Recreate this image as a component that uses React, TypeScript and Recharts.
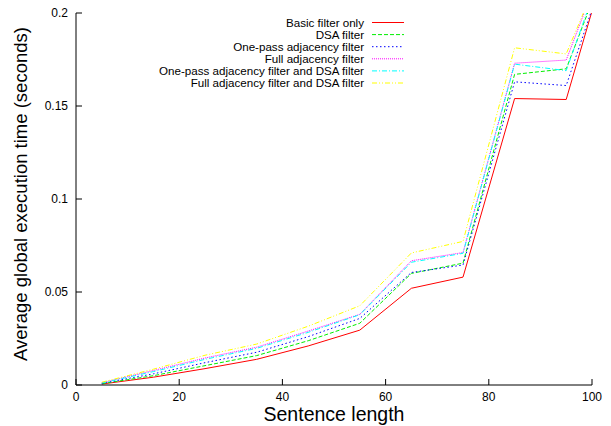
import { LineChart, Line, XAxis, YAxis, Legend, Label } from 'recharts';

// sentence length (x) and average global execution time (seconds) per filter setup
const sentenceLengths = [5, 15, 25, 35, 45, 55, 65, 75, 85, 95, 100];
const basicOnly = [0.0005, 0.0042, 0.0088, 0.0138, 0.021, 0.0295, 0.052, 0.058, 0.154, 0.1535, 0.201];
const dsaFilter = [0.0007, 0.005, 0.0104, 0.0158, 0.0238, 0.0332, 0.06, 0.0655, 0.167, 0.17, 0.206];
const onePassAdj = [0.0009, 0.006, 0.012, 0.0176, 0.026, 0.0358, 0.0605, 0.0645, 0.163, 0.161, 0.202];
const fullAdj = [0.0012, 0.0078, 0.0145, 0.0203, 0.029, 0.038, 0.0668, 0.0712, 0.173, 0.1747, 0.211];
const onePassAdjDsa = [0.0011, 0.0072, 0.0138, 0.0197, 0.0283, 0.0378, 0.066, 0.0708, 0.1725, 0.169, 0.208];
const fullAdjDsa = [0.0015, 0.0085, 0.016, 0.022, 0.0316, 0.0426, 0.071, 0.0772, 0.1813, 0.178, 0.211];

const xTicks = [0, 20, 40, 60, 80, 100];
const yTicks = [0, 0.05, 0.1, 0.15, 0.2];

const data = sentenceLengths.map((len, i) => ({
  len,
  basic: basicOnly[i],
  dsa: dsaFilter[i],
  onePass: onePassAdj[i],
  full: fullAdj[i],
  onePassDsa: onePassAdjDsa[i],
  fullDsa: fullAdjDsa[i],
}));

const series = [
  { key: 'basic', name: 'Basic filter only', color: '#ff0000', dash: undefined },
  { key: 'dsa', name: 'DSA filter', color: '#00ee00', dash: '4 2' },
  { key: 'onePass', name: 'One-pass adjacency filter', color: '#0000ff', dash: '1.5 2.5' },
  { key: 'full', name: 'Full adjacency filter', color: '#ff00ff', dash: '1 1' },
  { key: 'onePassDsa', name: 'One-pass adjacency filter and DSA filter', color: '#00ffff', dash: '5 2 1 2' },
  { key: 'fullDsa', name: 'Full adjacency filter and DSA filter', color: '#ffff00', dash: '5 2 1 2 1 2' },
];

const FONT = '"Liberation Sans", Arial, sans-serif';
const TICK = 6;

const BottomTick = ({ x, y, payload }: any) => (
  <g>
    <line x1={x} y1={y} x2={x} y2={y - TICK} stroke="#000" />
    <text x={x} y={y + 16} textAnchor="middle" fontSize={12} fontFamily={FONT} fill="#000">
      {payload.value}
    </text>
  </g>
);

const TopTick = ({ x, y }: any) => <line x1={x} y1={y} x2={x} y2={y + TICK} stroke="#000" />;

const LeftTick = ({ x, y, payload }: any) => (
  <g>
    <line x1={x} y1={y} x2={x + TICK} y2={y} stroke="#000" />
    <text x={x - 8} y={y + 4} textAnchor="end" fontSize={12} fontFamily={FONT} fill="#000">
      {payload.value}
    </text>
  </g>
);

const RightTick = ({ x, y }: any) => <line x1={x} y1={y} x2={x - TICK} y2={y} stroke="#000" />;

const LegendBox = () => (
  <svg width={280} height={84} style={{ display: 'block' }}>
    {series.map((s, i) => {
      const cy = 7.5 + i * 12.1;
      return (
        <g key={s.key}>
          <text x={224} y={cy + 4} textAnchor="end" fontSize={11.6} fontFamily={FONT} fill="#000">
            {s.name}
          </text>
          <line x1={232} x2={264} y1={cy} y2={cy} stroke={s.color} strokeWidth={1} strokeDasharray={s.dash} />
        </g>
      );
    })}
  </svg>
);

export default function App() {
  return (
    <div style={{ position: 'absolute', left: 0, top: 0, background: '#fff' }}>
      <LineChart width={611} height={426} data={data} margin={{ top: 13, right: 19, left: 0, bottom: 0 }}>
        <XAxis
          dataKey="len"
          type="number"
          domain={[0, 100]}
          ticks={xTicks}
          height={41}
          tickSize={0}
          tickMargin={0}
          tickLine={false}
          tick={BottomTick}
          axisLine={{ stroke: '#000' }}
        >
          <Label
            content={({ viewBox }: any) => (
              <text
                x={viewBox.x + viewBox.width / 2}
                y={viewBox.y + 36}
                textAnchor="middle"
                fontSize={19.5}
                fontFamily={FONT}
                fill="#000"
              >
                Sentence length
              </text>
            )}
          />
        </XAxis>
        <XAxis
          xAxisId="top"
          orientation="top"
          type="number"
          domain={[0, 100]}
          ticks={xTicks}
          height={0}
          tickSize={0}
          tickMargin={0}
          tickLine={false}
          tick={TopTick}
          axisLine={{ stroke: '#000' }}
        />
        <YAxis
          type="number"
          domain={[0, 0.2]}
          ticks={yTicks}
          allowDataOverflow
          width={76}
          tickSize={0}
          tickMargin={0}
          tickLine={false}
          tick={LeftTick}
          axisLine={{ stroke: '#000' }}
        >
          <Label
            content={({ viewBox }: any) => {
              const cx = 20;
              const cy = viewBox.y + viewBox.height / 2 - 5;
              return (
                <text
                  x={cx}
                  y={cy}
                  transform={`rotate(-90 ${cx} ${cy})`}
                  textAnchor="middle"
                  dominantBaseline="central"
                  fontSize={18.5}
                  fontFamily={FONT}
                  fill="#000"
                >
                  Average global execution time (seconds)
                </text>
              );
            }}
          />
        </YAxis>
        <YAxis
          yAxisId="right"
          orientation="right"
          type="number"
          domain={[0, 0.2]}
          ticks={yTicks}
          width={0}
          tickSize={0}
          tickMargin={0}
          tickLine={false}
          tick={RightTick}
          axisLine={{ stroke: '#000' }}
        />
        <Legend
          layout="vertical"
          align="center"
          verticalAlign="middle"
          content={LegendBox}
          wrapperStyle={{ position: 'absolute', left: 140, top: 15, width: 280, height: 84 }}
        />
        {series.map((s) => (
          <Line
            key={s.key}
            dataKey={s.key}
            name={s.name}
            type="linear"
            stroke={s.color}
            strokeWidth={1}
            strokeDasharray={s.dash}
            dot={false}
            activeDot={false}
            isAnimationActive={false}
          />
        ))}
      </LineChart>
    </div>
  );
}
